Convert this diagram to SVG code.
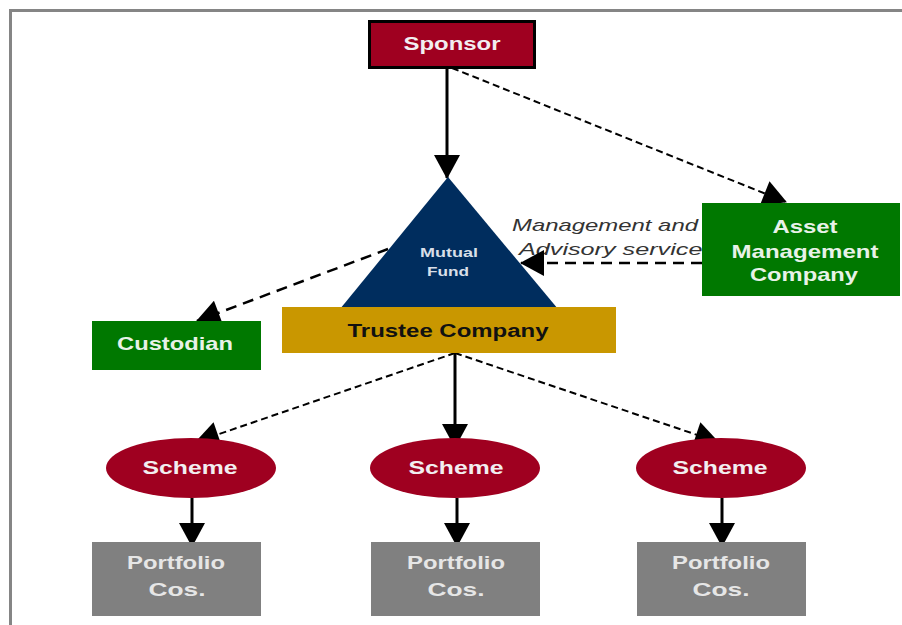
<svg xmlns="http://www.w3.org/2000/svg" width="902" height="625" viewBox="0 0 902 625">
  <defs>
    <style>
      .lbl { font-family: "Liberation Sans", Arial, sans-serif; font-weight: bold; text-anchor: middle; }
      .light { fill: #f2eef0; }
      .solid { stroke: #000; stroke-width: 3; fill: none; }
      .dash-s { stroke: #000; stroke-width: 2; fill: none; stroke-dasharray: 7 4; }
      .dash-l { stroke: #000; stroke-width: 2.5; fill: none; stroke-dasharray: 11 7; }
      .note { font-family: "Liberation Sans", Arial, sans-serif; font-style: italic; font-size: 17px; fill: #333; }
    </style>
    <marker id="ah" markerUnits="userSpaceOnUse" markerWidth="26" markerHeight="26" viewBox="0 0 24 26" refX="23" refY="13" orient="auto">
      <path d="M0,0 L24,13 L0,26 Z" fill="#000"/>
    </marker>
  </defs>

  <rect width="902" height="625" fill="#fff"/>
  <!-- outer frame (open at right and bottom) -->
  <path d="M10.5,625 V10.5 H902" fill="none" stroke="#858585" stroke-width="3"/>

  <!-- label for advisory link, partly tucked under the AMC box -->
  <g id="advisory-label">
    <text class="note" x="512" y="231" textLength="186" lengthAdjust="spacingAndGlyphs">Management and</text>
    <text class="note" x="519" y="255" textLength="196" lengthAdjust="spacingAndGlyphs">Advisory services</text>
  </g>

  <!-- connectors -->
  <g id="connectors">
    <line class="solid" x1="447" y1="68" x2="447" y2="178" marker-end="url(#ah)"/>
    <line class="dash-s" x1="452" y1="68" x2="786" y2="202" marker-end="url(#ah)"/>
    <line class="dash-l" x1="702" y1="263" x2="521" y2="263" marker-end="url(#ah)"/>
    <line class="dash-l" x1="388" y1="249" x2="197" y2="321" marker-end="url(#ah)"/>
    <line class="solid" x1="455" y1="353" x2="455" y2="447" marker-end="url(#ah)"/>
    <line class="dash-s" x1="455" y1="353" x2="196" y2="442" marker-end="url(#ah)"/>
    <line class="dash-s" x1="455" y1="353" x2="718" y2="442" marker-end="url(#ah)"/>
    <line class="solid" x1="192" y1="498" x2="192" y2="546" marker-end="url(#ah)"/>
    <line class="solid" x1="457" y1="498" x2="457" y2="546" marker-end="url(#ah)"/>
    <line class="solid" x1="722" y1="498" x2="722" y2="546" marker-end="url(#ah)"/>
  </g>

  <g id="sponsor">
    <rect x="369.5" y="21.5" width="165" height="46" fill="#9f0020" stroke="#000" stroke-width="3"/>
    <text class="lbl light" x="452" y="50" font-size="18" textLength="97" lengthAdjust="spacingAndGlyphs">Sponsor</text>
  </g>

  <g id="mutual-fund">
    <polygon points="448,177 558,309 340,309" fill="#002d5e"/>
    <text class="lbl" x="449" y="257" font-size="13" fill="#d8dfe8" textLength="58" lengthAdjust="spacingAndGlyphs">Mutual</text>
    <text class="lbl" x="448" y="276" font-size="13" fill="#d8dfe8" textLength="42" lengthAdjust="spacingAndGlyphs">Fund</text>
  </g>

  <g id="trustee">
    <rect x="282" y="307" width="334" height="46" fill="#c99700"/>
    <text class="lbl" x="448" y="337" font-size="18" fill="#111" textLength="201" lengthAdjust="spacingAndGlyphs">Trustee Company</text>
  </g>

  <g id="custodian">
    <rect x="92" y="321" width="169" height="49" fill="#007800"/>
    <text class="lbl" x="175" y="350" font-size="19" fill="#e8f2e8" textLength="116" lengthAdjust="spacingAndGlyphs">Custodian</text>
  </g>

  <g id="amc">
    <rect x="702" y="203" width="198" height="93" fill="#007800"/>
    <text class="lbl" x="805" y="233" font-size="19" fill="#e8f2e8" textLength="65" lengthAdjust="spacingAndGlyphs">Asset</text>
    <text class="lbl" x="805" y="258" font-size="19" fill="#e8f2e8" textLength="147" lengthAdjust="spacingAndGlyphs">Management</text>
    <text class="lbl" x="804" y="281" font-size="19" fill="#e8f2e8" textLength="108" lengthAdjust="spacingAndGlyphs">Company</text>
  </g>

  <g id="scheme-1">
    <ellipse cx="191" cy="468" rx="85" ry="30" fill="#9f0020"/>
    <text class="lbl light" x="190" y="474" font-size="19" textLength="95" lengthAdjust="spacingAndGlyphs">Scheme</text>
  </g>
  <g id="scheme-2">
    <ellipse cx="455" cy="468" rx="85" ry="30" fill="#9f0020"/>
    <text class="lbl light" x="456" y="474" font-size="19" textLength="95" lengthAdjust="spacingAndGlyphs">Scheme</text>
  </g>
  <g id="scheme-3">
    <ellipse cx="721" cy="468" rx="85" ry="30" fill="#9f0020"/>
    <text class="lbl light" x="720" y="474" font-size="19" textLength="95" lengthAdjust="spacingAndGlyphs">Scheme</text>
  </g>

  <g id="portfolio-1">
    <rect x="92" y="542" width="169" height="74" fill="#808080"/>
    <text class="lbl" x="176" y="569" font-size="19" fill="#e6e6e6" textLength="98" lengthAdjust="spacingAndGlyphs">Portfolio</text>
    <text class="lbl" x="177" y="596" font-size="19" fill="#e6e6e6" textLength="57" lengthAdjust="spacingAndGlyphs">Cos.</text>
  </g>
  <g id="portfolio-2">
    <rect x="371" y="542" width="169" height="74" fill="#808080"/>
    <text class="lbl" x="456" y="569" font-size="19" fill="#e6e6e6" textLength="98" lengthAdjust="spacingAndGlyphs">Portfolio</text>
    <text class="lbl" x="456" y="596" font-size="19" fill="#e6e6e6" textLength="57" lengthAdjust="spacingAndGlyphs">Cos.</text>
  </g>
  <g id="portfolio-3">
    <rect x="637" y="542" width="169" height="74" fill="#808080"/>
    <text class="lbl" x="721" y="569" font-size="19" fill="#e6e6e6" textLength="98" lengthAdjust="spacingAndGlyphs">Portfolio</text>
    <text class="lbl" x="721" y="596" font-size="19" fill="#e6e6e6" textLength="57" lengthAdjust="spacingAndGlyphs">Cos.</text>
  </g>
</svg>
